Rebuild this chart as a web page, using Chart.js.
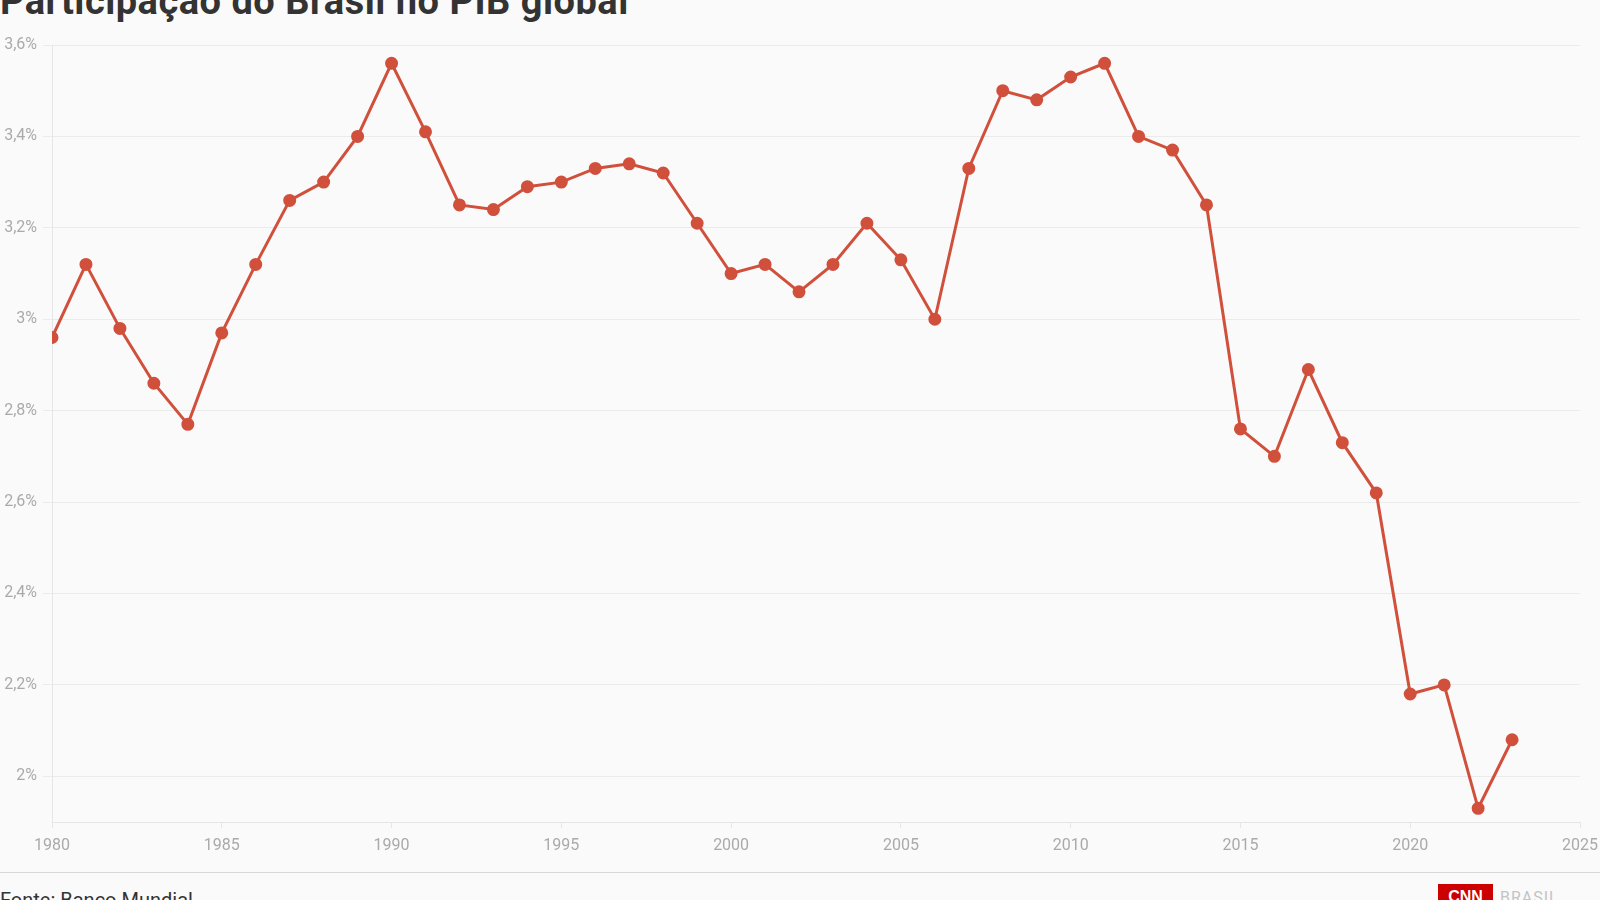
<!DOCTYPE html>
<html lang="pt-BR">
<head>
    <meta charset="UTF-8">
    <title>Participação do Brasil no PIB global</title>
    <script src="https://cdn.jsdelivr.net/npm/chart.js"></script>
    <style>
        html, body { margin: 0; padding: 0; background: #fafafa; overflow: hidden; }
        body { width: 1600px; height: 900px; position: relative; font-family: 'Roboto', sans-serif; }
        #title { position: absolute; left: 0; top: -18px; font-size: 38px; line-height: 38px; font-weight: bold; letter-spacing: 0.5px; color: #333; white-space: nowrap; }
        #chartBox { position: absolute; left: 0; top: 0; width: 1600px; height: 860px; }
        #rule { position: absolute; left: 0; top: 872px; width: 1600px; height: 1px; background: #d8d8d8; }
        #source { position: absolute; left: 0; top: 890px; font-size: 20px; line-height: 20px; color: #333; white-space: nowrap; }
        #logo { position: absolute; left: 1438px; top: 884px; width: 55px; height: 30px; background: #cc0000; color: #fff; font: bold 16px 'Liberation Sans', sans-serif; text-align: center; line-height: 26px; }
        #logoText { position: absolute; left: 1500px; top: 888px; font-size: 16px; color: #c4c4c4; letter-spacing: 1px; }
    </style>
</head>
<body>
    <div id="title">Participação do Brasil no PIB global</div>
    <div id="chartBox"><canvas id="chart"></canvas></div>
    <div id="rule"></div>
    <div id="source">Fonte: Banco Mundial</div>
    <div id="logo">CNN</div>
    <div id="logoText">BRASIL</div>

    <script>
        // Participação do Brasil no PIB global (%), 1980-2023
        const years = [1980, 1981, 1982, 1983, 1984, 1985, 1986, 1987, 1988, 1989,
                       1990, 1991, 1992, 1993, 1994, 1995, 1996, 1997, 1998, 1999,
                       2000, 2001, 2002, 2003, 2004, 2005, 2006, 2007, 2008, 2009,
                       2010, 2011, 2012, 2013, 2014, 2015, 2016, 2017, 2018, 2019,
                       2020, 2021, 2022, 2023];
        const shares = [2.96, 3.12, 2.98, 2.86, 2.77, 2.97, 3.12, 3.26, 3.30, 3.40,
                        3.56, 3.41, 3.25, 3.24, 3.29, 3.30, 3.33, 3.34, 3.32, 3.21,
                        3.10, 3.12, 3.06, 3.12, 3.21, 3.13, 3.00, 3.33, 3.50, 3.48,
                        3.53, 3.56, 3.40, 3.37, 3.25, 2.76, 2.70, 2.89, 2.73, 2.62,
                        2.18, 2.20, 1.93, 2.08];
        const yTicks = [2, 2.2, 2.4, 2.6, 2.8, 3, 3.2, 3.4, 3.6];

        const lineColor = '#d0503c';
        const tickFont = { family: "'Roboto', sans-serif", size: 16 };

        new Chart(document.getElementById('chart'), {
            type: 'line',
            data: {
                datasets: [{
                    data: years.map((y, i) => ({ x: y, y: shares[i] })),
                    borderColor: lineColor,
                    backgroundColor: lineColor,
                    borderWidth: 3,
                    pointRadius: 5,
                    pointHoverRadius: 6,
                    tension: 0,
                    fill: false
                }]
            },
            options: {
                responsive: true,
                maintainAspectRatio: false,
                animation: false,
                layout: { padding: { top: 45, right: 0, left: 0, bottom: 0 } },
                plugins: { legend: { display: false }, tooltip: { enabled: false } },
                scales: {
                    x: {
                        type: 'linear',
                        min: 1980,
                        max: 2025,
                        afterFit: (axis) => { axis.height = 38; axis.paddingRight = 20; },
                        ticks: {
                            stepSize: 5,
                            color: '#aaa',
                            font: tickFont,
                            padding: 8,
                            maxRotation: 0,
                            callback: (v) => String(v)
                        },
                        grid: { drawOnChartArea: false, drawTicks: true, tickLength: 6, color: '#e6e6e6' },
                        border: { color: '#e6e6e6' }
                    },
                    y: {
                        min: 1.9,
                        max: 3.6,
                        afterFit: (axis) => { axis.width = 52; },
                        afterBuildTicks: (axis) => { axis.ticks = yTicks.map(v => ({ value: v })); },
                        ticks: {
                            color: '#aaa',
                            font: tickFont,
                            padding: 6,
                            callback: (v) => String(+v.toFixed(1)).replace('.', ',') + '%'
                        },
                        grid: { color: '#ebebeb', tickLength: 9 },
                        border: { color: '#e6e6e6' }
                    }
                }
            }
        });
    </script>
</body>
</html>
